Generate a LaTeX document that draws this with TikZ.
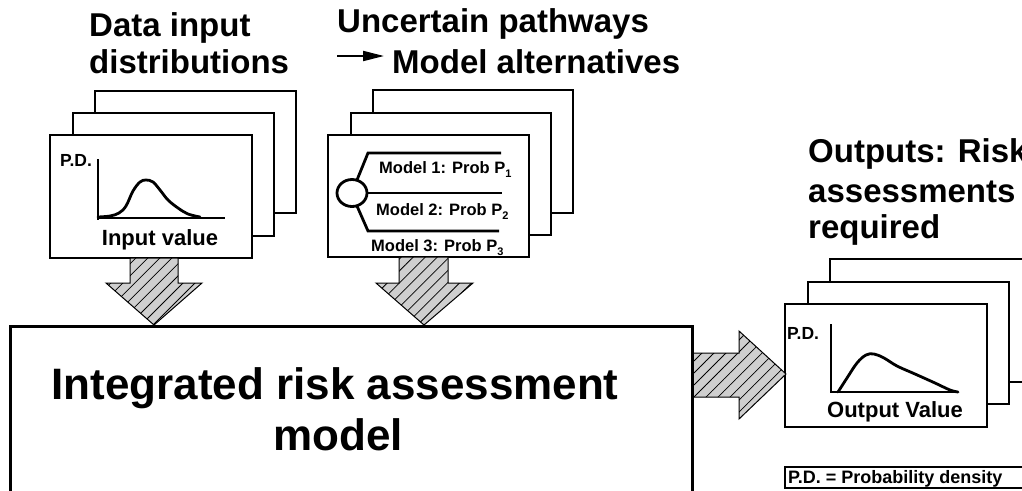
\documentclass[tikz,border=0pt]{standalone}
\usepackage{fontspec}
\setmainfont{Liberation Sans}
\usetikzlibrary{patterns.meta,arrows.meta}
\newcommand\fsz[1]{\fontsize{#1}{#1}\selectfont\bfseries}
\newcommand\subsc[1]{\raisebox{-0.25em}{\fontsize{11}{11}\selectfont\bfseries #1}}
\begin{document}
\begin{tikzpicture}[x=1pt,y=-1pt,
  card/.style={draw, fill=white, line width=1.4pt},
  hatch/.style={fill=gray!38, postaction={pattern={Lines[angle=45,distance=8.5pt,line width=.8pt]}}},
  hatchline/.style={draw, line width=1pt, line join=miter},
  curve/.style={line width=2.8pt, line join=round, line cap=round},
  axis/.style={line width=2.8pt},
  title/.style={anchor=base west, inner sep=0pt, font=\fsz{33}},
  lbl/.style={inner sep=0pt},
]
\useasboundingbox (0,0) rectangle (1022,490);
\clip (0,0) rectangle (1022,490);

% ---------- titles ----------
\node[title] (t1a) at (89,36) {Data input};
\node[title] (t1b) at (89,73) {distributions};
\node[title] (t2a) at (337,32) {Uncertain pathways};
\node[title] (t2b) at (392,73) {Model alternatives};
\coordinate (ga) at (337,56);
\coordinate (gb) at (384,56);
\draw[line width=2pt, -{Triangle[length=21pt,width=10pt]}] (ga) -- (gb);
\node[title] (t3a) at (808,162) {Outputs: Risk};
\node[title] (t3b) at (808,202) {assessments};
\node[title] (t3c) at (808,238) {required};

% ---------- input distribution stack ----------
\draw[card] (95,91) rectangle (296,213);
\draw[card] (73,113) rectangle (274,236);
\draw[card] (50,135) rectangle (252,258);
\draw[axis] (98,159) -- (98,220);
\draw[axis] (97,218) -- (225,218);
\draw[curve] plot[smooth, tension=0.6] coordinates {(98,217) (110,216) (119,213) (126,206) (133,191) (140,182) (146,180) (153,182) (160,190) (168,200) (178,208) (188,214) (200,217)};
\node[lbl, anchor=base west, font=\fsz{17.5}] (pd1) at (60,166) {P.D.};
\node[lbl, anchor=base, font=\fsz{22}] (iv) at (160,245) {Input value};

% ---------- model alternatives stack ----------
\draw[card] (373,90) rectangle (573,213);
\draw[card] (351,113) rectangle (551,235);
\draw[card] (328,135) rectangle (529,257);
\draw[line width=2.8pt] (352,193) ellipse (15 and 13.5);
\draw[line width=2.8pt] (357,180) -- (368,153) -- (501,153);
\draw[line width=2.8pt] (367,193) -- (502,193);
\draw[line width=2.8pt] (357,206) -- (368,231) -- (499,231);
\node[lbl, anchor=base west, font=\fsz{16.5}] (m1) at (379,173) {Model 1: Prob P\subsc{1}};
\node[lbl, anchor=base west, font=\fsz{16.5}] (m2) at (376,215) {Model 2: Prob P\subsc{2}};
\node[lbl, anchor=base west, font=\fsz{16.5}] (m3) at (371,251) {Model 3: Prob P\subsc{3}};

% ---------- output stack ----------
\draw[card] (830,259) rectangle (1060,382);
\draw[card] (808,282) rectangle (1009,404);
\draw[card] (785,304) rectangle (987,427);
\draw[axis] (831,324) -- (831,393);
\draw[axis] (830,392) -- (958,392);
\draw[curve] plot[smooth, tension=0.6] coordinates {(838,392) (847,378) (857,363) (866,355) (874,354) (884,358) (897,366) (915,374) (935,383) (950,390) (958,392)};
\node[lbl, anchor=base west, font=\fsz{17.5}] (pd2) at (787,339) {P.D.};
\node[lbl, anchor=base, font=\fsz{22}] (ov) at (895,417) {Output Value};

% ---------- legend ----------
\draw[line width=1.2pt] (785,467) rectangle (1060,488);
\node[lbl, anchor=base west, font=\fsz{18}] (leg) at (788,483) {P.D. = Probability density};

% ---------- hatched arrows ----------
\coordinate (a1t) at (154,325);
\path[hatch] (130,258) -- (178,258) -- (178,283) -- (202,283) -- (a1t) -- (106,283) -- (130,283) -- cycle;
\draw[hatchline] (130,258) -- (178,258) -- (178,283) -- (202,283) -- (a1t) -- (106,283) -- (130,283) -- cycle;
\coordinate (a2t) at (424,325);
\path[hatch] (399,257) -- (448,257) -- (448,283) -- (473,283) -- (a2t) -- (376,283) -- (399,283) -- cycle;
\draw[hatchline] (399,257) -- (448,257) -- (448,283) -- (473,283) -- (a2t) -- (376,283) -- (399,283) -- cycle;

% ---------- main box ----------
\draw[line width=3pt, fill=white] (10,326) rectangle (692,530);
\node[lbl, anchor=base, font=\fsz{44}] (mt1) at (335,399) {Integrated risk assessment};
\node[lbl, anchor=base, font=\fsz{44}] (mt2) at (338,450) {model};

\coordinate (a3t) at (786,374);
\path[hatch] (692,353) -- (739,353) -- (739,331) -- (a3t) -- (739,419) -- (739,397) -- (692,397) -- cycle;
\draw[hatchline] (692,353) -- (739,353) -- (739,331) -- (a3t) -- (739,419) -- (739,397) -- (692,397);
\draw[line width=3pt] (692,326) -- (692,490);
\end{tikzpicture}
\end{document}
